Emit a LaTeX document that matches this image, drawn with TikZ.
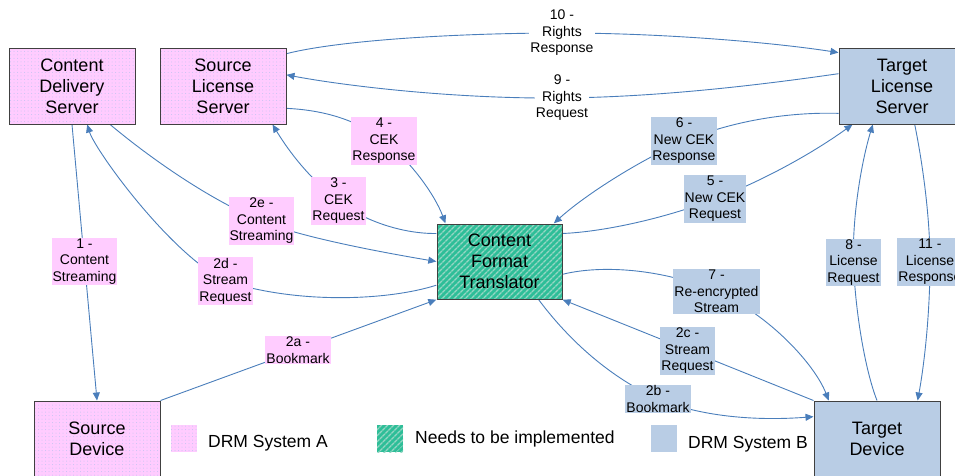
\documentclass[tikz,border=0pt]{standalone}
\usepackage{fontspec}
\setmainfont{Liberation Sans}
\usetikzlibrary{arrows.meta,patterns.meta,calc}

\definecolor{sysA}{HTML}{FFCCFF}
\definecolor{sysAdot}{HTML}{C4C4F2}
\definecolor{sysB}{HTML}{B9CDE5}
\definecolor{impl}{RGB}{46,190,152}
\definecolor{implstripe}{RGB}{150,214,196}
\definecolor{flow}{HTML}{4A7EBB}
\definecolor{frame}{HTML}{404040}

\pgfdeclarelayer{wires}
\pgfsetlayers{wires,main}

\tikzset{
  box/.style={draw=frame, line width=1pt, minimum width=126pt, minimum height=76pt,
    inner sep=0pt, align=center, font=\fontsize{18}{21}\selectfont},
  boxA/.style={box, preaction={fill=sysA}, pattern={Dots[radius=0.5pt,distance=3.5pt]}, pattern color=sysAdot},
  boxB/.style={box, fill=sysB},
  boxImpl/.style={box, preaction={fill=impl}, pattern={Lines[angle=45,distance=4pt,line width=1.4pt]}, pattern color=implstripe},
  tag/.style={inner xsep=1pt, inner ysep=1pt, align=center, font=\fontsize{14}{16.5}\selectfont},
  tagA/.style={tag, fill=sysA},
  tagB/.style={tag, fill=sysB},
  tagW/.style={tag, fill=white},
  swatch/.style={minimum width=26pt, minimum height=27pt, inner sep=0pt},
  legtext/.style={anchor=base west, inner sep=0pt, font=\fontsize{17.5}{21}\selectfont},
  flowline/.style={draw=flow, line width=0.9pt, -{Triangle[length=8pt,width=7pt]}},
}

\begin{document}
\begin{tikzpicture}[x=1pt, y=-1pt]
\useasboundingbox (0,0) rectangle (955,475);
\clip (0,0) rectangle (955,475);

% servers, devices and the translator
\node[boxA] (cds) at (72,86)  {Content\\Delivery\\Server};
\node[boxA] (sls) at (223,86) {Source\\License\\Server};
\node[boxB] (tls) at (902,86) {Target\\License\\Server};
\node[boxImpl, minimum width=125pt, minimum height=75pt] (cft) at (499.5,261.5) {Content\\Format\\Translator};
\node[boxA] (sd) at (97,439)  {Source\\Device};
\node[boxB] (td) at (877,439) {Target\\Device};

% message labels
\node[tagA] (l1)  at (84.5,261.5) {1 -\\Content\\Streaming};
\node[tagA] (l2e) at (261.5,221)  {2e -\\Content\\Streaming};
\node[tagA] (l2d) at (225.5,281)  {2d -\\Stream\\Request};
\node[tagA] (l3)  at (338.5,201)  {3 -\\CEK\\Request};
\node[tagA] (l4)  at (384,141)    {4 -\\CEK\\Response};
\node[tagW] (l10) at (562,33)     {10 -\\Rights\\Response};
\node[tagW] (l9)  at (562,98)     {9 -\\Rights\\Request};
\node[tagB] (l6)  at (684,141)    {6 -\\New CEK\\Response};
\node[tagB] (l5)  at (715,199)    {5 -\\New CEK\\Request};
\node[tagB] (l7)  at (716.5,291.5){7 -\\Re-encrypted\\Stream};
\node[tagB] (l8)  at (853.5,262.5){8 -\\License\\Request};
\node[tagB] (l11) at (930,262)    {11 -\\License\\Response};
\node[tagA] (l2a) at (298,350)    {2a -\\Bookmark};
\node[tagB] (l2b) at (658,399)    {2b -\\Bookmark};
\node[tagB] (l2c) at (687.5,351)  {2c -\\Stream\\Request};

% message flows
\begin{pgfonlayer}{wires}
\draw[flowline] (cds.south) -- (sd.north);
\draw[flowline] ($(cft.north west)!0.81!(cft.south west)$) .. controls (390,300) and (300,305) .. (l2d.center)
  .. controls (170,254) and (95,150) .. ($(cds.south west)!0.62!(cds.south east)$);
\draw[flowline] ($(cds.south west)!0.80!(cds.south east)$) .. controls (150,158) and (210,200) .. (l2e.center)
  .. controls (300,237) and (380,252) .. (cft.west);
\draw[flowline] ($(cft.north west)!0.133!(cft.south west)$) .. controls (405,234) and (365,222) .. (l3.center)
  .. controls (305,175) and (285,145) .. ($(sls.south west)!0.89!(sls.south east)$);
\draw[flowline] ($(sls.north east)!0.79!(sls.south east)$) .. controls (320,110) and (355,118) .. (l4.center)
  .. controls (410,160) and (435,195) .. ($(cft.north west)!0.072!(cft.north east)$);
\draw[flowline] ($(tls.north west)!0.34!(tls.south west)$) .. controls (760,85) and (660,97) .. (l9.center)
  .. controls (450,99) and (340,85) .. ($(sls.north east)!0.355!(sls.south east)$);
\draw[flowline] ($(sls.north east)!0.08!(sls.south east)$) .. controls (340,40) and (460,33) .. (l10.center)
  .. controls (660,33) and (770,42) .. ($(tls.north west)!0.066!(tls.south west)$);
\draw[flowline] ($(tls.north west)!0.855!(tls.south west)$) .. controls (790,112) and (735,120) .. (l6.center)
  .. controls (640,160) and (585,195) .. ($(cft.north west)!0.93!(cft.north east)$);
\draw[flowline] ($(cft.north east)!0.133!(cft.south east)$) .. controls (600,232) and (660,220) .. (l5.center)
  .. controls (760,182) and (810,155) .. ($(tls.south west)!0.11!(tls.south east)$);
\draw[flowline] ($(cft.north east)!0.667!(cft.south east)$) .. controls (600,265) and (660,268) .. (l7.center)
  .. controls (770,315) and (815,365) .. ($(td.north west)!0.12!(td.north east)$);
\draw[flowline] (td.north west) -- (cft.south east);
\draw[flowline] ($(cft.south west)!0.81!(cft.south east)$) .. controls (565,335) and (605,375) .. (l2b.center)
  .. controls (710,420) and (770,420) .. ($(td.north west)!0.21!(td.south west)$);
\draw[flowline] (sd.north east) -- (cft.south west);
\draw[flowline] (td.north) .. controls (865,370) and (855,310) .. (l8.center)
  .. controls (852,215) and (862,160) .. ($(tls.south west)!0.27!(tls.south east)$);
\draw[flowline] ($(tls.south west)!0.6!(tls.south east)$) .. controls (922,160) and (930,215) .. (l11.center)
  .. controls (930,310) and (925,360) .. ($(td.north west)!0.82!(td.north east)$);
\end{pgfonlayer}

% legend
\node[swatch, preaction={fill=sysA}, pattern={Dots[radius=0.5pt,distance=3.5pt]}, pattern color=sysAdot] (kA) at (184,438.5) {};
\node[legtext] (kAt) at (208,447) {DRM System A};
\node[swatch, preaction={fill=impl}, pattern={Lines[angle=45,distance=4pt,line width=1.4pt]}, pattern color=implstripe] (kI) at (390,438.5) {};
\node[legtext] (kIt) at (415,443) {Needs to be implemented};
\node[swatch, fill=sysB] (kB) at (664,438.5) {};
\node[legtext] (kBt) at (688,448) {DRM System B};
\end{tikzpicture}
\end{document}
